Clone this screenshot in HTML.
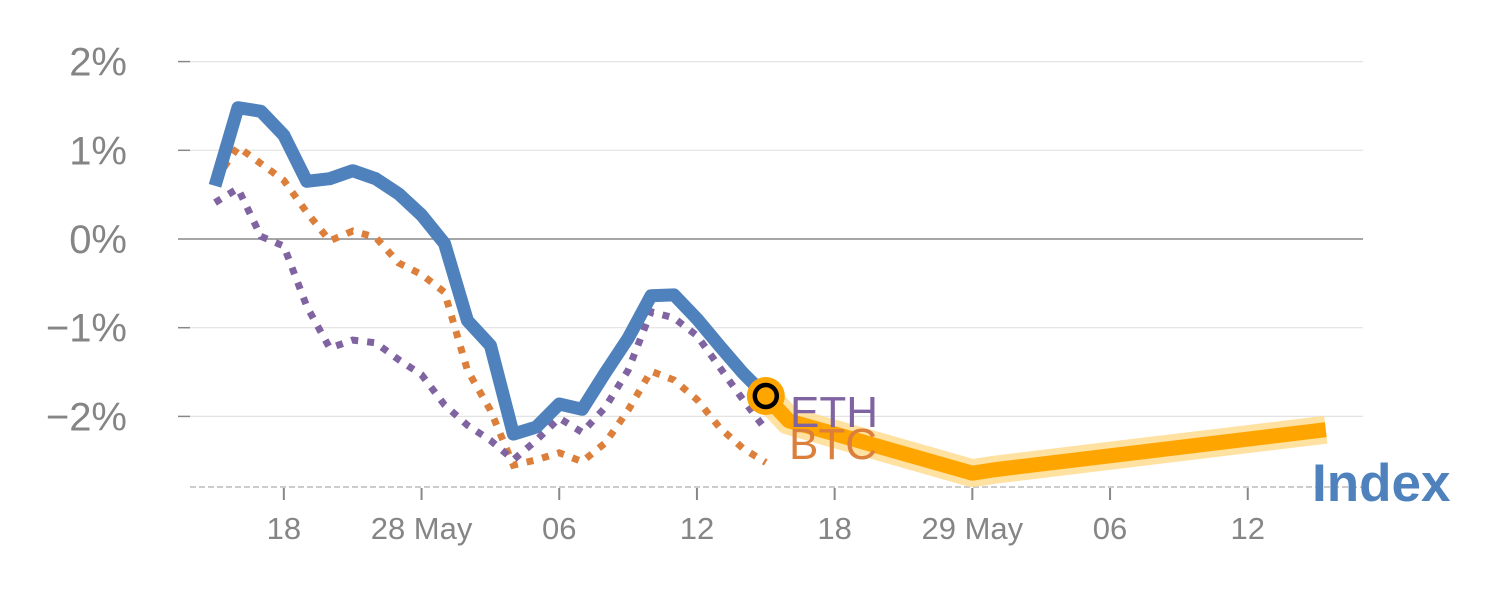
<!DOCTYPE html>
<html><head><meta charset="utf-8">
<style>
body{margin:0;background:#fff;}
svg{display:block;font-family:"Liberation Sans",sans-serif;}
</style></head>
<body>
<svg id="chart" width="1500" height="600">
<g id="grid"></g>
<g id="yaxis"></g>
<g id="xaxis"></g>
<g id="series"></g>
<text x="790" y="427" font-size="44" fill="#8064a2">ETH</text>
<text x="789" y="459" font-size="44" fill="#dc7f3a">BTC</text>
<text x="1312" y="501" font-size="53" font-weight="bold" fill="#4f81bd">Index</text>
</svg>
<script>
const yTicks=[2,1,0,-1,-2];
const xTickPos=[3,9,15,21,27,33,39,45];
const xTickLabels=["18","28 May","06","12","18","29 May","06","12"];
const indexValues=[0.6,1.48,1.44,1.17,0.65,0.68,0.77,0.68,0.51,0.27,-0.05,-0.92,-1.2,-2.2,-2.12,-1.86,-1.92,-1.51,-1.12,-0.64,-0.63,-0.9,-1.21,-1.51,-1.77];
const btcValues=[0.66,1.04,0.66,0.3,-0.02,0.09,0.02,-0.27,-0.4,-0.6,-1.48,-1.93,-2.55,-2.49,-2.41,-2.51,-2.3,-1.93,-1.49,-1.59,-1.81,-2.13,-2.36,-2.52];
const btcSteps=[0,1,3,4,5,6,7,8,9,10,11,12,13,14,15,16,17,18,19,20,21,22,23,24];
const ethValues=[0.41,0.57,0.03,-0.08,-0.76,-1.23,-1.14,-1.17,-1.36,-1.53,-1.87,-2.1,-2.27,-2.49,-2.27,-2.02,-2.18,-1.9,-1.48,-0.82,-0.89,-1.09,-1.45,-1.81,-2.15];
const fcSteps=[24,25,33,34,48.4];
const fcValues=[-1.77,-2.05,-2.64,-2.6,-2.15];
const NS="http://www.w3.org/2000/svg";
const x=s=>215+s*22.95;
const y=v=>239-v*88.7;
function mk(t,a,p){const e=document.createElementNS(NS,t);for(const k in a)e.setAttribute(k,a[k]);p.appendChild(e);return e;}
const grid=document.getElementById('grid'),ya=document.getElementById('yaxis'),xa=document.getElementById('xaxis'),se=document.getElementById('series');
yTicks.forEach(v=>{
 const l=mk('line',{x1:190,x2:1363,y1:y(v),y2:y(v),stroke:v===0?'#888':'#e3e3e3','stroke-width':v===0?1.5:1.2},grid);
 
 
 mk('line',{x1:178,x2:190,y1:y(v),y2:y(v),stroke:'#888','stroke-width':1.5},ya);
 const t=mk('text',{x:127,y:y(v)+14,'text-anchor':'end','font-size':40,fill:'#858585'},ya);
 t.textContent=(v<0?'\u2212':'')+Math.abs(v)+'%';
 
 
});
mk('line',{x1:190,x2:1363,y1:487,y2:487,stroke:'#ccc','stroke-width':2,'stroke-dasharray':'6,3'},xa);
xTickPos.forEach((s,i)=>{
 mk('line',{x1:x(s),x2:x(s),y1:488,y2:500,stroke:'#888','stroke-width':2},xa);
 const t=mk('text',{x:x(s),y:539,'text-anchor':'middle','font-size':31,fill:'#858585'},xa);
 t.textContent=xTickLabels[i];
 
 
});
function pts(steps,vals){return vals.map((v,i)=>x(steps?steps[i]:i)+','+y(v)).join(' ');}
const fcP=pts(fcSteps,fcValues);
let e=mk('polyline',{points:fcP,fill:'none',stroke:'#ffd98a','stroke-width':28,'stroke-linejoin':'round',opacity:0.8},se);


e=mk('polyline',{points:fcP,fill:'none',stroke:'#ffa500','stroke-width':15,'stroke-linejoin':'round'},se);


e=mk('polyline',{points:pts(btcSteps,btcValues),fill:'none',stroke:'#dc7f3a','stroke-width':7,'stroke-dasharray':'7,9'},se);


e=mk('polyline',{points:pts(null,ethValues),fill:'none',stroke:'#8064a2','stroke-width':7,'stroke-dasharray':'7,9'},se);


e=mk('polyline',{points:pts(null,indexValues),fill:'none',stroke:'#4f81bd','stroke-width':13,'stroke-linejoin':'round'},se);


const last=indexValues.length-1;
e=mk('circle',{cx:x(last),cy:y(indexValues[last]),r:19,fill:'#ffa500'},se);


mk('circle',{cx:x(last),cy:y(indexValues[last]),r:11,fill:'none',stroke:'#000','stroke-width':4.5},se);
</script>
</body></html>
